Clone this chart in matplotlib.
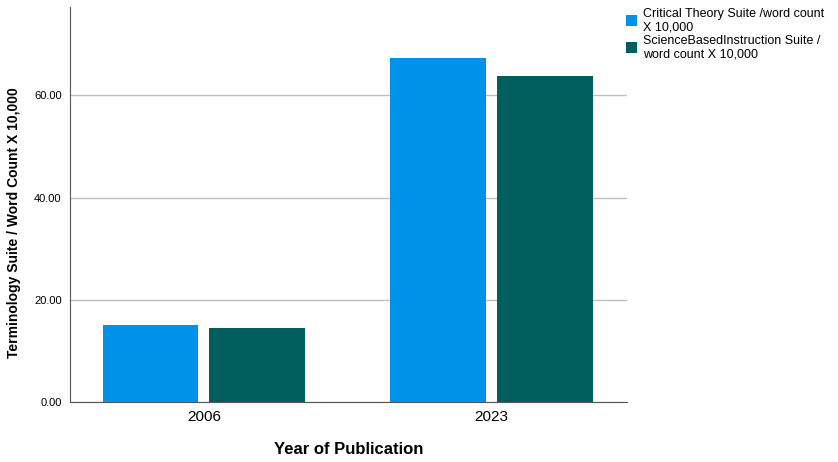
import matplotlib.pyplot as plt
import numpy as np

years = ['2006', '2023']
critical_theory = [15.0, 67.4]
science_based = [14.4, 63.7]
series_labels = ['Critical Theory Suite /word count\nX 10,000',
                 'ScienceBasedInstruction Suite /\nword count X 10,000']
yticks = [0, 20, 40, 60]

plt.rcParams['font.family'] = ['Liberation Sans', 'DejaVu Sans']

fig = plt.figure(figsize=(8.38, 4.62), dpi=100)
ax = fig.add_axes([0.0835, 0.13, 0.665, 0.855])

x = np.arange(len(years))
w = 0.333
b1 = ax.bar(x - 0.185, critical_theory, w, color='#0091EA', zorder=3)
b2 = ax.bar(x + 0.185, science_based, w, color='#005E5C', zorder=3)

ax.set_xlim(-0.465, 1.472)
ax.set_ylim(0, 77.3)
ax.set_yticks(yticks)
ax.set_yticklabels(['%.2f' % v for v in yticks], fontsize=8)
ax.set_xticks(x)
ax.set_xticklabels(years, fontsize=11)
ax.tick_params(length=0, pad=6)
ax.yaxis.grid(True, color='#c0c0c0', linewidth=1, zorder=0)

for s in ['top', 'right']:
    ax.spines[s].set_visible(False)
for s in ['left', 'bottom']:
    ax.spines[s].set_color('#555555')

ax.set_xlabel('Year of Publication', fontsize=12, fontweight='bold', labelpad=13)
ax.set_ylabel('Terminology Suite / Word Count X 10,000', fontsize=10,
              fontweight='bold')
ax.yaxis.set_label_coords(-0.088, 0.455)

fig.legend([b1, b2], series_labels, loc='upper left',
           bbox_to_anchor=(0.733, 1.008), frameon=False, fontsize=9,
           handlelength=0.9, handleheight=1.0, handletextpad=0.5,
           labelspacing=0.1)

plt.savefig('out.png', dpi=100)
